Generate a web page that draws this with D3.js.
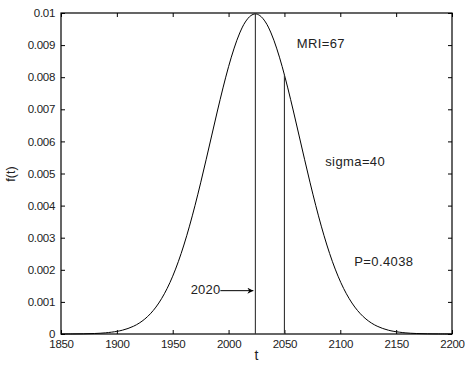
<!DOCTYPE html>
<html>
<head>
<meta charset="utf-8">
<script src="https://cdn.jsdelivr.net/npm/d3@7"></script>
<style>
	body { margin: 0; background: #fff; }
	svg { display: block; font-family: "Liberation Sans", Arial, sans-serif; }
</style>
</head>
<body>
<div id="chart"></div>
<script>
// Curve: year and density f(t)
var years = [1850, 1860, 1870, 1880, 1890, 1900, 1905, 1910, 1915, 1920, 1925, 1930, 1935,
	1940, 1945, 1950, 1955, 1960, 1965, 1970, 1975, 1980, 1985, 1990, 1995, 2000, 2005,
	2010, 2015, 2020, 2024, 2028, 2033, 2038, 2043, 2048, 2053, 2058, 2063, 2068, 2073,
	2078, 2083, 2088, 2093, 2098, 2103, 2108, 2113, 2118, 2123, 2128, 2133, 2138, 2143,
	2148, 2158, 2168, 2178, 2188, 2200];
var density = [0.0000008, 0.0000022, 0.000006, 0.0000153, 0.0000365, 0.0000816, 0.000119,
	0.000172, 0.000243, 0.000339, 0.000466, 0.00063, 0.000839, 0.0011, 0.001418, 0.001801,
	0.002252, 0.002772, 0.00336, 0.004008, 0.004709, 0.005444, 0.006198, 0.006947, 0.007666,
	0.008328, 0.008906, 0.009378, 0.009721, 0.00992, 0.00997, 0.00992, 0.009721, 0.009378,
	0.008906, 0.008328, 0.007666, 0.006947, 0.006198, 0.005444, 0.004709, 0.004008, 0.00336,
	0.002772, 0.002252, 0.001801, 0.001418, 0.0011, 0.000839, 0.00063, 0.000466, 0.000339,
	0.000243, 0.000172, 0.000119, 0.0000816, 0.0000365, 0.0000153, 0.000006, 0.0000022,
	0.0000006];

// Vertical marker lines (year, height)
var markerYears = [2024, 2050];
var markerValues = [0.00997, 0.00808];

var xTicks = [1850, 1900, 1950, 2000, 2050, 2100, 2150, 2200];
var yTicks = [0, 0.001, 0.002, 0.003, 0.004, 0.005, 0.006, 0.007, 0.008, 0.009, 0.01];
var yTickLabels = ["0", "0.001", "0.002", "0.003", "0.004", "0.005", "0.006", "0.007", "0.008", "0.009", "0.01"];

var notes = [
	{ text: "MRI=67", year: 2061, value: 0.00902 },
	{ text: "sigma=40", year: 2086.5, value: 0.00534 },
	{ text: "P=0.4038", year: 2112.5, value: 0.00221 }
];
var arrowLabel = "2020";
var arrowYear = 2024;
var arrowValue = 0.00135;

var W = 465, H = 371;
var margin = { top: 13, right: 13, bottom: 37, left: 61 };
var width = W - margin.left - margin.right,
    height = H - margin.top - margin.bottom;

var svg = d3.select("#chart").append("svg")
	.attr("width", W)
	.attr("height", H);

var g = svg.append("g")
	.attr("transform", "translate(" + margin.left + "," + margin.top + ")");

var x = d3.scaleLinear().domain([1850, 2200]).range([0, width]);
var y = d3.scaleLinear().domain([0, 0.01]).range([height, 0]);

// Axes (MATLAB style: ticks pointing inward on all four sides)
function styleAxis(sel) {
	sel.select(".domain").remove();
	sel.selectAll(".tick line").attr("stroke", "#000");
	sel.selectAll(".tick text")
		.attr("fill", "#222")
		.style("font-size", "11.5px")
		.style("letter-spacing", "-0.3px")
		.style("font-family", "'Liberation Sans', Arial, sans-serif");
}

g.append("g")
	.attr("transform", "translate(0," + height + ")")
	.call(d3.axisBottom(x).tickValues(xTicks).tickFormat(d3.format("d"))
		.tickSizeInner(-4).tickSizeOuter(0).tickPadding(6))
	.call(styleAxis);

g.append("g")
	.call(d3.axisTop(x).tickValues(xTicks).tickFormat("")
		.tickSizeInner(-4).tickSizeOuter(0))
	.call(styleAxis);

g.append("g")
	.call(d3.axisLeft(y).tickValues(yTicks).tickFormat(function(d, i) { return yTickLabels[i]; })
		.tickSizeInner(-4).tickSizeOuter(0).tickPadding(6))
	.call(styleAxis);

g.append("g")
	.attr("transform", "translate(" + width + ",0)")
	.call(d3.axisRight(y).tickValues(yTicks).tickFormat("")
		.tickSizeInner(-4).tickSizeOuter(0))
	.call(styleAxis);

// Frame
g.append("rect")
	.attr("x", 0).attr("y", 0)
	.attr("width", width).attr("height", height)
	.attr("fill", "none")
	.attr("stroke", "#000")
	.attr("stroke-width", 1.2);

// Density curve
var pts = years.map(function(t, i) { return [t, density[i]]; });
var line = d3.line()
	.x(function(d) { return x(d[0]); })
	.y(function(d) { return y(d[1]); })
	.curve(d3.curveCatmullRom);

g.append("path")
	.datum(pts)
	.attr("d", line)
	.attr("fill", "none")
	.attr("stroke", "#000")
	.attr("stroke-width", 1);

// Vertical marker lines
g.selectAll(".marker")
	.data(markerYears)
	.enter().append("line")
		.attr("class", "marker")
		.attr("x1", function(d) { return x(d); })
		.attr("x2", function(d) { return x(d); })
		.attr("y1", y(0))
		.attr("y2", function(d, i) { return y(markerValues[i]); })
		.attr("stroke", "#333")
		.attr("stroke-width", 1.1);

// Text notes
g.selectAll(".note")
	.data(notes)
	.enter().append("text")
		.attr("class", "note")
		.attr("x", function(d) { return x(d.year); })
		.attr("y", function(d) { return y(d.value); })
		.attr("dominant-baseline", "middle")
		.style("font-size", "13px")
		.style("letter-spacing", "0.4px")
		.attr("fill", "#222")
		.text(function(d) { return d.text; });

// "2020" arrow
svg.append("defs").append("marker")
	.attr("id", "head")
	.attr("viewBox", "0 0 10 10")
	.attr("refX", 10).attr("refY", 5)
	.attr("markerWidth", 9).attr("markerHeight", 6)
	.attr("markerUnits", "userSpaceOnUse")
	.attr("orient", "auto")
	.append("path")
		.attr("d", "M0,0 L10,5 L0,10 L3,5 Z")
		.attr("fill", "#000");

var ay = y(arrowValue);
g.append("line")
	.attr("x1", x(arrowYear) - 35)
	.attr("x2", x(arrowYear) - 2)
	.attr("y1", ay).attr("y2", ay)
	.attr("stroke", "#000")
	.attr("stroke-width", 1)
	.attr("marker-end", "url(#head)");

g.append("text")
	.attr("x", x(arrowYear) - 35)
	.attr("y", ay)
	.attr("text-anchor", "end")
	.attr("dominant-baseline", "middle")
	.style("font-size", "13px")
	.style("letter-spacing", "0.2px")
	.attr("fill", "#222")
	.text(arrowLabel);

// Axis titles
svg.append("text")
	.attr("x", margin.left + x(2025))
	.attr("y", 356)
	.attr("text-anchor", "middle")
	.attr("dominant-baseline", "middle")
	.style("font-size", "14px")
	.attr("fill", "#222")
	.text("t");

svg.append("text")
	.attr("transform", "translate(12," + 174 + ") rotate(-90)")
	.attr("text-anchor", "middle")
	.attr("dominant-baseline", "middle")
	.style("font-size", "12.5px")
	.attr("fill", "#222")
	.text("f(t)");
</script>
</body>
</html>
